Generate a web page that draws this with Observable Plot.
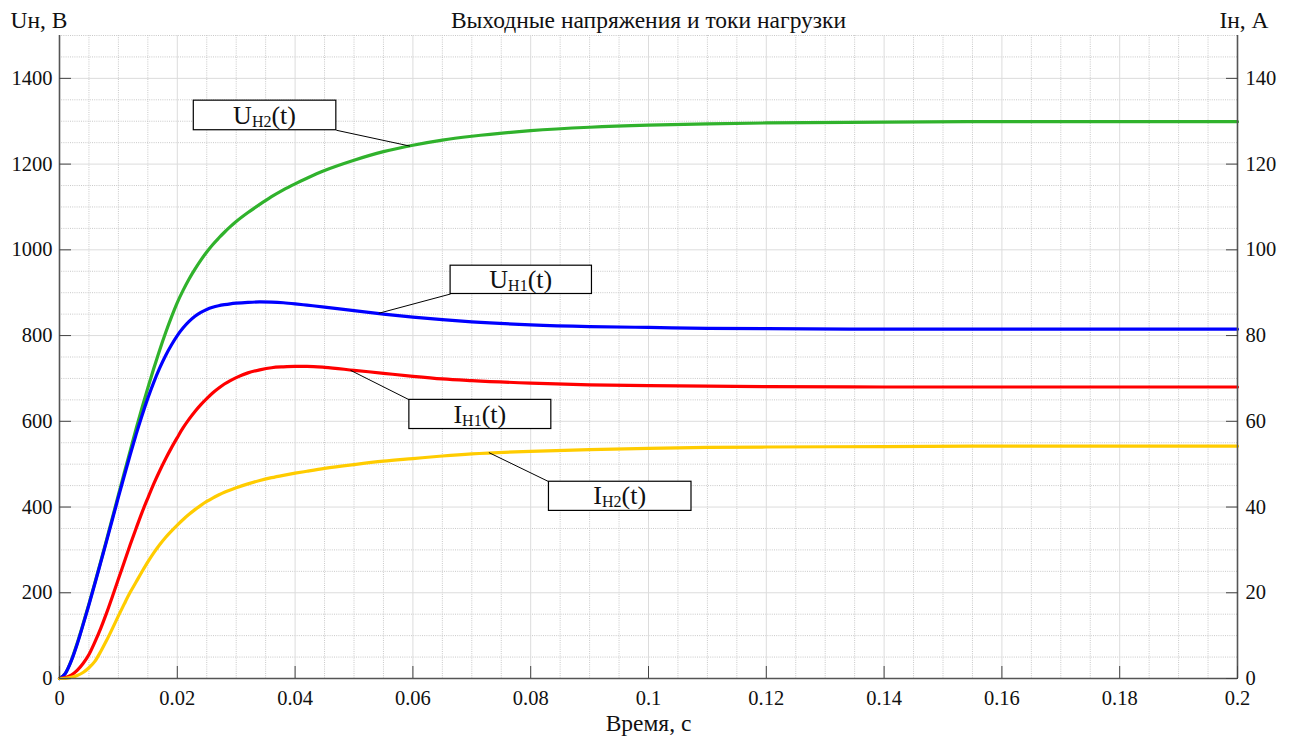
<!DOCTYPE html>
<html><head><meta charset="utf-8">
<script src="https://cdn.jsdelivr.net/npm/d3@7"></script>
<script src="https://cdn.jsdelivr.net/npm/@observablehq/plot@0.6"></script>
<style>
body{margin:0;background:#fff}
svg{display:block}
#chart svg text{font-family:"Liberation Serif","Times New Roman",serif !important;}
</style>
</head><body><div id="chart"></div>
<script>
const title = "Выходные напряжения и токи нагрузки";
const leftLabel = "Uн, В";
const rightLabel = "Iн, А";
const xLabel = "Время, с";

const time = [0, 0.001, 0.002, 0.003, 0.004, 0.005, 0.006, 0.007, 0.008, 0.009, 0.010,
  0.011, 0.012, 0.013, 0.014, 0.015, 0.016, 0.017, 0.018, 0.019, 0.020,
  0.021, 0.022, 0.023, 0.024, 0.025, 0.026, 0.027, 0.028, 0.029, 0.030,
  0.032, 0.034, 0.036, 0.038, 0.040, 0.042,
  0.045, 0.050, 0.055, 0.060, 0.065, 0.070,
  0.080, 0.090, 0.100, 0.110, 0.120,
  0.140, 0.160, 0.180, 0.200];
// U_H2(t), V
const uH2 = [0, 12, 42, 82, 127, 174, 223, 273, 324, 376, 428,
  480, 531, 582, 631, 678, 723, 766, 806, 843, 877,
  906, 932, 955, 976, 995, 1012, 1027, 1041, 1054, 1066,
  1087, 1106, 1124, 1140, 1154, 1167,
  1185, 1209, 1229, 1244, 1256, 1265,
  1278, 1286, 1291, 1294, 1296,
  1298, 1299, 1299, 1299];
// U_H1(t), V
const uH1 = [0, 12, 41, 80, 125, 172, 221, 271, 321, 372, 423,
  473, 522, 569, 613, 654, 691, 724, 753, 778, 800,
  818, 833, 845, 854, 861, 866, 869.5, 872, 874, 875.5,
  877.5, 878.5, 878, 876.5, 874, 871,
  866.5, 858, 850, 843, 837, 832,
  825, 821, 819, 817, 816,
  815, 815, 815, 815];
// I_H1(t), A
const iH1 = [0, 0.2, 0.8, 1.9, 3.5, 5.6, 8.5, 11.7, 15.3, 19.2, 23.2,
  27.2, 31.2, 35.0, 38.7, 42.1, 45.4, 48.4, 51.2, 53.8, 56.2,
  58.5, 60.5, 62.3, 63.9, 65.3, 66.6, 67.7, 68.7, 69.5, 70.2,
  71.3, 72.0, 72.5, 72.7, 72.8, 72.8,
  72.6, 71.9, 71.2, 70.5, 69.9, 69.5,
  68.9, 68.5, 68.3, 68.2, 68.1,
  68.0, 68.0, 68.0, 68.0];
// I_H2(t), A
const iH2 = [0, 0.05, 0.25, 0.7, 1.4, 2.5, 4.0, 6.3, 8.9, 11.7, 14.6,
  17.4, 20.1, 22.5, 24.9, 27.2, 29.3, 31.2, 32.9, 34.4, 35.8,
  37.1, 38.3, 39.4, 40.4, 41.3, 42.1, 42.8, 43.45, 44.0, 44.5,
  45.4, 46.2, 46.85, 47.4, 47.9, 48.35,
  49.0, 49.9, 50.7, 51.3, 51.9, 52.4,
  53.0, 53.4, 53.7, 53.9, 54.0,
  54.1, 54.2, 54.2, 54.2];

const xTicks = [0, 0.02, 0.04, 0.06, 0.08, 0.1, 0.12, 0.14, 0.16, 0.18, 0.2];
const xTickLabels = ["0", "0.02", "0.04", "0.06", "0.08", "0.1", "0.12", "0.14", "0.16", "0.18", "0.2"];
const yTicks = [0, 200, 400, 600, 800, 1000, 1200, 1400];
const yLeftLabels = ["0", "200", "400", "600", "800", "1000", "1200", "1400"];
const yRightLabels = ["0", "20", "40", "60", "80", "100", "120", "140"];

// callouts: box corners and leader line, in data coordinates (time, V-scale)
const annotations = [
  {main: "U", sub: "Н2", x1: 0.0228, x2: 0.0470, y1: 1348, y2: 1279, fx: 0.0470, fy: 1279, lx: 0.0595, ly: 1242},
  {main: "U", sub: "Н1", x1: 0.0664, x2: 0.0904, y1: 963, y2: 897, fx: 0.0664, fy: 897, lx: 0.0542, ly: 852},
  {main: "I", sub: "Н1", x1: 0.0594, x2: 0.0835, y1: 650, y2: 582, fx: 0.0594, fy: 650, lx: 0.0494, ly: 719},
  {main: "I", sub: "Н2", x1: 0.0831, x2: 0.1073, y1: 459, y2: 391, fx: 0.0831, fy: 459, lx: 0.0729, ly: 527}
];

const FONT = '"Liberation Serif", "Times New Roman", serif';
const ratio = 10; // right axis: A = left-scale value / 10

const series = [
  {name: "uH2", values: uH2, k: 1, color: "#30b22c"},
  {name: "uH1", values: uH1, k: 1, color: "#0000ff"},
  {name: "iH1", values: iH1, k: ratio, color: "#ff0000"},
  {name: "iH2", values: iH2, k: ratio, color: "#ffcc00"}
];
const lineMarks = series.map(s => Plot.line(time.map((t, i) => ({t, v: s.values[i] * s.k})), {
  x: "t", y: "v", stroke: s.color, strokeWidth: 3.2, curve: "monotone-x"
}));

const minorX = d3.range(0, 41).map(i => i * 0.005).filter((d, i) => i % 4 !== 0);
const minorY = d3.range(0, 31).map(i => i * 50).filter((d, i) => i % 4 !== 0);

function annotationText(index, scales) {
  const g = d3.create("svg:g").attr("fill", "#111");
  for (const a of annotations) {
    const cx = (scales.x(a.x1) + scales.x(a.x2)) / 2;
    const cy = (scales.y(a.y1) + scales.y(a.y2)) / 2;
    const t = g.append("text").attr("x", cx).attr("y", cy + 8.6)
      .attr("text-anchor", "middle").attr("font-size", 26);
    t.append("tspan").text(a.main);
    t.append("tspan").attr("font-size", 16).attr("dy", 3).text(a.sub);
    t.append("tspan").attr("dy", -3).text("(t)");
  }
  return g.node();
}

const chart = Plot.plot({
  width: 1291,
  height: 740,
  marginLeft: 59,
  marginRight: 54,
  marginTop: 35,
  marginBottom: 62,
  style: {fontFamily: FONT, fontSize: "20px", color: "#111", background: "#fff"},
  x: {domain: [0, 0.2]},
  y: {domain: [0, 1500]},
  marks: [
    Plot.ruleX(minorX, {stroke: "#c8c8c8", strokeDasharray: "1,1.2"}),
    Plot.ruleY(minorY, {stroke: "#c8c8c8", strokeDasharray: "1,1.2"}),
    Plot.ruleX(xTicks, {stroke: "#dcdcdc"}),
    Plot.ruleY(yTicks, {stroke: "#dcdcdc"}),
    ...lineMarks,
    Plot.link(annotations, {x1: "fx", y1: "fy", x2: "lx", y2: "ly", stroke: "#000", strokeWidth: 1}),
    Plot.rect(annotations, {x1: "x1", x2: "x2", y1: "y1", y2: "y2", fill: "#fff", stroke: "#000", strokeWidth: 1.2}),
    annotationText,
    Plot.ruleX([0, 0.2], {stroke: "#555", strokeWidth: 1.6}),
    Plot.ruleY([0], {stroke: "#555", strokeWidth: 1.6}),
    Plot.axisX({ticks: xTicks, tickSize: -12, tickPadding: 24, label: null, stroke: "#444", fontSize: 20.5,
      tickFormat: d => xTickLabels[xTicks.indexOf(d)], fill: "#111"}),
    Plot.axisY({anchor: "left", ticks: yTicks, tickSize: -12, tickPadding: 19, label: null, stroke: "#444", fontSize: 20.5,
      tickFormat: d => yLeftLabels[yTicks.indexOf(d)], fill: "#111"}),
    Plot.axisY({anchor: "right", ticks: yTicks, tickSize: -12, tickPadding: 20, label: null, stroke: "#444", fontSize: 20.5,
      tickFormat: d => yRightLabels[yTicks.indexOf(d)], fill: "#111"}),
    Plot.text([title], {frameAnchor: "top", lineAnchor: "middle", dy: -15, fontSize: 23.5, fill: "#111"}),
    Plot.text([leftLabel], {frameAnchor: "top-left", lineAnchor: "middle", textAnchor: "start", dx: -49, dy: -15, fontSize: 23.5, fill: "#111"}),
    Plot.text([rightLabel], {frameAnchor: "top-right", lineAnchor: "middle", textAnchor: "end", dx: 31, dy: -15, fontSize: 23.5, fill: "#111"}),
    Plot.text([xLabel], {frameAnchor: "bottom", lineAnchor: "middle", dy: 45, fontSize: 23.5, fill: "#111"})
  ]
});
document.getElementById("chart").append(chart);
</script>
</body></html>
